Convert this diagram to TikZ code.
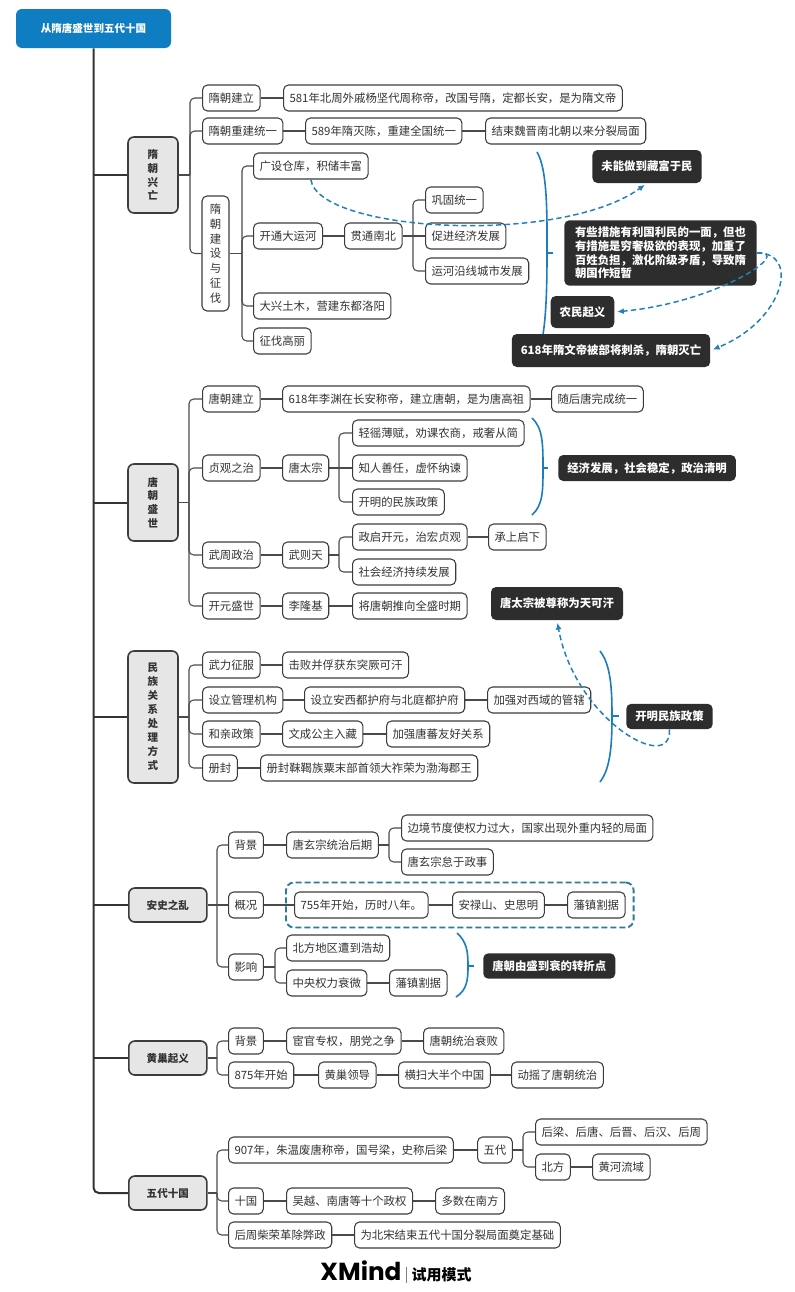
\documentclass[tikz,border=0pt]{standalone}
\usepackage{fontspec}
\setmainfont{Noto Sans CJK SC}
\newfontfamily\xmfont{Poppins}
\usetikzlibrary{arrows.meta,fit}
\definecolor{rootc}{HTML}{0F7DC2}
\definecolor{bordc}{HTML}{3C3C3C}
\definecolor{connc}{HTML}{4A4A4A}
\definecolor{lfill}{HTML}{E6E6E6}
\definecolor{darkc}{HTML}{2D2D2D}
\definecolor{bracec}{HTML}{1B7DC0}
\definecolor{dashc}{HTML}{2180B8}
\definecolor{dboxc}{HTML}{2A7C98}
\definecolor{txtc}{HTML}{333333}
\pgfdeclarelayer{bg}
\pgfsetlayers{bg,main}
\newcommand\mynf{\fontsize{8.55pt}{10.3pt}\selectfont}
\newcommand\mylf{\fontsize{7.9pt}{10.3pt}\selectfont}
\begin{document}
\begin{tikzpicture}[x=0.75pt,y=-0.75pt,
  boxbase/.style={inner ysep=0pt, text height=7.55pt, text depth=1.05pt},
  box/.style={boxbase, font=\mynf, text=txtc, draw=bordc, line width=0.8pt, fill=white, rounded corners=3.75pt, inner xsep=4.5pt, minimum height=19.5pt, anchor=west},
  dark/.style={boxbase, font=\mynf\bfseries, fill=darkc, text=white, rounded corners=3.75pt, inner xsep=6.75pt},
  darkm/.style={font=\mynf\bfseries, fill=darkc, text=white, rounded corners=3.75pt, inner xsep=8pt, inner ysep=5pt, align=left},
  l1h/.style={boxbase, font=\mylf\bfseries, text=txtc, draw=bordc, line width=1.2pt, fill=lfill, rounded corners=4.5pt, minimum width=58.5pt, minimum height=25.5pt, anchor=west},
  l1v/.style={font=\mylf\bfseries, text=txtc, draw=bordc, line width=1.2pt, fill=lfill, rounded corners=4.5pt, minimum width=37.5pt, align=center, inner sep=0pt},
  vb/.style={font=\fontsize{8.55pt}{11.1pt}\selectfont, text=txtc, draw=bordc, line width=0.8pt, fill=white, rounded corners=3.75pt, minimum width=20.25pt, align=center, inner sep=0pt},
  rootbox/.style={boxbase, font=\fontsize{7.9pt}{9pt}\selectfont\bfseries, fill=rootc, text=white, rounded corners=4.5pt, minimum width=116.25pt, minimum height=29.25pt},
  conn/.style={draw=connc, line width=0.8pt, rounded corners=3.5pt},
  trunk/.style={draw=txtc, line width=1.5pt, rounded corners=4pt},
  bracel/.style={draw=bracec, line width=1.2pt},
  darr/.style={draw=dashc, line width=1.1pt, dash pattern=on 4pt off 2.5pt, -{Latex[length=5pt,width=4.5pt]}, shorten >=2pt},
  dbox/.style={draw=dboxc, line width=1.4pt, dash pattern=on 4.5pt off 2.25pt, rounded corners=6pt, inner xsep=6pt, inner ysep=6.75pt}
]
\useasboundingbox (0,0) rectangle (794,1292);

% root and level 1
\node[rootbox] (R) at (93.5,28.5) {从隋唐盛世到五代十国};
\node[l1v, minimum height=57pt] (S) at (153,175) {隋\\朝\\兴\\亡};
\node[l1v, minimum height=57.75pt] (T) at (153,502.5) {唐\\朝\\盛\\世};
\node[l1v, minimum height=99pt, font=\fontsize{7.9pt}{10.5pt}\selectfont\bfseries] (M) at (153,717) {民\\族\\关\\系\\处\\理\\方\\式};
\node[l1h] (A) at (128,905) {安史之乱};
\node[l1h] (H) at (128,1058) {黄巢起义};
\node[l1h] (W) at (128,1193) {五代十国};

% Sui
\node[box] (s1) at (202,98) {隋朝建立};
\node[box] (s1a) at (283,98) {581年北周外戚杨坚代周称帝，改国号隋，定都长安，是为隋文帝};
\node[box] (s2) at (202,131) {隋朝重建统一};
\node[box] (s2a) at (305,131) {589年隋灭陈，重建全国统一};
\node[box] (s2b) at (485,131) {结束魏晋南北朝以来分裂局面};
\node[vb, minimum height=86.25pt] (s3) at (215.5,253.5) {隋\\朝\\建\\设\\与\\征\\伐};
\node[box] (s3a) at (253,166) {广设仓库，积储丰富};
\node[box] (s3b) at (253,236) {开通大运河};
\node[box] (s3c) at (344,236) {贯通南北};
\node[box] (s3d) at (425,200) {巩固统一};
\node[box] (s3e) at (425,236) {促进经济发展};
\node[box] (s3f) at (425,271) {运河沿线城市发展};
\node[box] (s3g) at (253,306) {大兴土木，营建东都洛阳};
\node[box] (s3h) at (253,341) {征伐高丽};
\node[dark, minimum height=24.75pt] (d1) at (647,166.5) {未能做到藏富于民};
\node[darkm] (d2) at (660.5,253) {有些措施有利国利民的一面，但也\\有措施是穷奢极欲的表现，加重了\\百姓负担，激化阶级矛盾，导致隋\\朝国作短暂};
\node[dark, minimum height=24pt] (d3) at (582.5,312) {农民起义};
\node[dark, minimum height=24.75pt] (d4) at (611,350.5) {618年隋文帝被部将刺杀，隋朝灭亡};

% Tang
\node[box] (t1) at (202,399) {唐朝建立};
\node[box] (t1a) at (282,399) {618年李渊在长安称帝，建立唐朝，是为唐高祖};
\node[box] (t1b) at (551,399) {随后唐完成统一};
\node[box] (t2) at (202,468) {贞观之治};
\node[box] (t2a) at (282,468) {唐太宗};
\node[box] (t2b) at (352,433) {轻徭薄赋，劝课农商，戒奢从简};
\node[box] (t2c) at (352,468) {知人善任，虚怀纳谏};
\node[box] (t2d) at (352,502) {开明的民族政策};
\node[box] (t3) at (202,555) {武周政治};
\node[box] (t3a) at (282,555) {武则天};
\node[box] (t3b) at (352,537) {政启开元，治宏贞观};
\node[box] (t3c) at (488,537) {承上启下};
\node[box] (t3d) at (352,572) {社会经济持续发展};
\node[box] (t4) at (202,606) {开元盛世};
\node[box] (t4a) at (282,606) {李隆基};
\node[box] (t4b) at (352,606) {将唐朝推向全盛时期};
\node[dark, anchor=west, minimum height=19.5pt] (d5) at (558,468) {经济发展，社会稳定，政治清明};
\node[dark, minimum height=24.75pt] (d6) at (557,603.5) {唐太宗被尊称为天可汗};

% ethnic relations
\node[box] (m1) at (202,665) {武力征服};
\node[box] (m1a) at (282,665) {击败并俘获东突厥可汗};
\node[box] (m2) at (202,700) {设立管理机构};
\node[box] (m2a) at (304,700) {设立安西都护府与北庭都护府};
\node[box] (m2b) at (487,700) {加强对西域的管辖};
\node[box] (m3) at (202,734) {和亲政策};
\node[box] (m3a) at (282,734) {文成公主入藏};
\node[box] (m3b) at (386,734) {加强唐蕃友好关系};
\node[box] (m4) at (202,768) {册封};
\node[box] (m4a) at (260,768) {册封靺鞨族粟末部首领大祚荣为渤海郡王};
\node[dark, anchor=west, minimum height=19pt] (d7) at (626,716.5) {开明民族政策};

% An Shi
\node[box] (a1) at (228,845) {背景};
\node[box] (a1a) at (286,845) {唐玄宗统治后期};
\node[box] (a1b) at (401,828) {边境节度使权力过大，国家出现外重内轻的局面};
\node[box] (a1c) at (401,862) {唐玄宗怠于政事};
\node[box] (a2) at (228,905) {概况};
\node[box] (a2a) at (294,905) {755年开始，历时八年。};
\node[box] (a2b) at (452,905) {安禄山、史思明};
\node[box] (a2c) at (567,905) {藩镇割据};
\node[dbox, fit=(a2a)(a2c)] (a2f) {};
\node[box] (a3) at (228,967) {影响};
\node[box] (a3a) at (286,948) {北方地区遭到浩劫};
\node[box] (a3b) at (286,983) {中央权力衰微};
\node[box] (a3c) at (389,983) {藩镇割据};
\node[dark, anchor=west, minimum height=19pt] (d8) at (483,966) {唐朝由盛到衰的转折点};

% Huang Chao
\node[box] (h1) at (228,1041) {背景};
\node[box] (h1a) at (286,1041) {宦官专权，朋党之争};
\node[box] (h1b) at (423,1041) {唐朝统治衰败};
\node[box] (h2) at (228,1075) {875年开始};
\node[box] (h2a) at (318,1075) {黄巢领导};
\node[box] (h2b) at (398,1075) {横扫大半个中国};
\node[box] (h2c) at (511,1075) {动摇了唐朝统治};

% Five dynasties
\node[box] (w1) at (228,1150) {907年，朱温废唐称帝，国号梁，史称后梁};
\node[box] (w1a) at (477,1150) {五代};
\node[box] (w1b) at (535,1132) {后梁、后唐、后晋、后汉、后周};
\node[box] (w1c) at (535,1167) {北方};
\node[box] (w1d) at (592,1167) {黄河流域};
\node[box] (w2) at (228,1201) {十国};
\node[box] (w2a) at (286,1201) {吴越、南唐等十个政权};
\node[box] (w2b) at (435,1201) {多数在南方};
\node[box] (w3) at (228,1235) {后周柴荣革除弊政};
\node[box] (w3a) at (354,1235) {为北宋结束五代十国分裂局面奠定基础};

\node[inner sep=0pt] (xm) at (396,1272) {{\xmfont\fontsize{18.5pt}{18.5pt}\selectfont\bfseries XMind}\hspace{3.5pt}{\color{gray}\rule[-1.5pt]{0.6pt}{12pt}}\hspace{3.5pt}{\fontsize{11.25pt}{12pt}\selectfont\bfseries 试用模式}};

% bracket x positions
\coordinate (bS) at (190,0);
\coordinate (b3) at (242,0);
\coordinate (b3c) at (413,0);
\coordinate (bT) at (189,0);
\coordinate (bTa) at (339,0);
\coordinate (bA) at (217,0);
\coordinate (bA1) at (389,0);
\coordinate (bA3) at (275,0);
\coordinate (bW1) at (523,0);

\begin{pgfonlayer}{bg}
\fill[white] (0,0) rectangle (794,1292);
% trunk
\draw[trunk] (R.south) |- (W.west);
\foreach \n in {S,T,M,A,H} {\draw[trunk] (R.south |- \n.west) -- (\n.west);}
% Sui
\draw[conn] (S.east) -- (S.east -| bS);
\foreach \c in {s1,s2,s3} {\draw[conn] (S.east -| bS) |- (\c.west);}
\draw[conn] (s1.east) -- (s1a.west);
\draw[conn] (s2.east) -- (s2a.west);
\draw[conn] (s2a.east) -- (s2b.west);
\draw[conn] (s3.east) -- (s3.east -| b3);
\foreach \c in {s3a,s3b,s3g,s3h} {\draw[conn] (s3.east -| b3) |- (\c.west);}
\draw[conn] (s3b.east) -- (s3c.west);
\draw[conn] (s3c.east) -- (s3e.west);
\foreach \c in {s3d,s3f} {\draw[conn] (s3c.east -| b3c) |- (\c.west);}
% Tang
\draw[conn] (T.east) -- (T.east -| bT);
\foreach \c in {t1,t2,t3,t4} {\draw[conn] (T.east -| bT) |- (\c.west);}
\draw[conn] (t1.east) -- (t1a.west);
\draw[conn] (t1a.east) -- (t1b.west);
\draw[conn] (t2.east) -- (t2a.west);
\draw[conn] (t2a.east) -- (t2c.west);
\foreach \c in {t2b,t2d} {\draw[conn] (t2a.east -| bTa) |- (\c.west);}
\draw[conn] (t3.east) -- (t3a.west);
\draw[conn] (t3a.east) -- (t3a.east -| bTa);
\foreach \c in {t3b,t3d} {\draw[conn] (t3a.east -| bTa) |- (\c.west);}
\draw[conn] (t3b.east) -- (t3c.west);
\draw[conn] (t4.east) -- (t4a.west);
\draw[conn] (t4a.east) -- (t4b.west);
% ethnic
\draw[conn] (M.east) -- (M.east -| bT);
\foreach \c in {m1,m2,m3,m4} {\draw[conn] (M.east -| bT) |- (\c.west);}
\draw[conn] (m1.east) -- (m1a.west);
\draw[conn] (m2.east) -- (m2a.west);
\draw[conn] (m2a.east) -- (m2b.west);
\draw[conn] (m3.east) -- (m3a.west);
\draw[conn] (m3a.east) -- (m3b.west);
\draw[conn] (m4.east) -- (m4a.west);
% An Shi
\draw[conn] (A.east) -- (a2.west);
\foreach \c in {a1,a3} {\draw[conn] (A.east -| bA) |- (\c.west);}
\draw[conn] (a1.east) -- (a1a.west);
\draw[conn] (a1a.east) -- (a1a.east -| bA1);
\foreach \c in {a1b,a1c} {\draw[conn] (a1a.east -| bA1) |- (\c.west);}
\draw[conn] (a2.east) -- (a2a.west);
\draw[conn] (a2a.east) -- (a2b.west);
\draw[conn] (a2b.east) -- (a2c.west);
\draw[conn] (a3.east) -- (a3.east -| bA3);
\foreach \c in {a3a,a3b} {\draw[conn] (a3.east -| bA3) |- (\c.west);}
\draw[conn] (a3b.east) -- (a3c.west);
% Huang Chao
\draw[conn] (H.east) -- (H.east -| bA);
\foreach \c in {h1,h2} {\draw[conn] (H.east -| bA) |- (\c.west);}
\draw[conn] (h1.east) -- (h1a.west);
\draw[conn] (h1a.east) -- (h1b.west);
\draw[conn] (h2.east) -- (h2a.west);
\draw[conn] (h2a.east) -- (h2b.west);
\draw[conn] (h2b.east) -- (h2c.west);
% Five dynasties
\draw[conn] (W.east) -- (W.east -| bA);
\foreach \c in {w1,w2,w3} {\draw[conn] (W.east -| bA) |- (\c.west);}
\draw[conn] (w1.east) -- (w1a.west);
\draw[conn] (w1a.east) -- (w1a.east -| bW1);
\foreach \c in {w1b,w1c} {\draw[conn] (w1a.east -| bW1) |- (\c.west);}
\draw[conn] (w1c.east) -- (w1d.west);
\draw[conn] (w2.east) -- (w2a.west);
\draw[conn] (w2a.east) -- (w2b.west);
\draw[conn] (w3.east) -- (w3a.west);
% summary braces
\draw[bracel] (537,152) .. controls (548,170) and (547,220) .. (547,253) .. controls (547,290) and (546,320) .. (542,340);
\draw[bracel] (547,253) -- (553,253);
\draw[bracel] (532,418) .. controls (543,428) and (543,445) .. (543,468) .. controls (543,491) and (543,505) .. (532,515);
\draw[bracel] (543,468) -- (548,468);
\draw[bracel] (600,651) .. controls (611,665) and (612,690) .. (612,716) .. controls (612,742) and (611,768) .. (600,782);
\draw[bracel] (612,716) -- (619,716);
\draw[bracel] (457,933) .. controls (467,942) and (468,952) .. (468,966) .. controls (468,980) and (467,990) .. (456,997);
\draw[bracel] (468,966) -- (474,966);
\end{pgfonlayer}

% dashed relation arrows
\draw[darr] (s3a.south) .. controls (318,232) and (560,246) .. (d1.south);
\draw[darr] (d2.east) .. controls (795,250) and (720,302) .. (d3.east);
\draw[darr] (d2.east) .. controls (800,252) and (785,320) .. (d4.east);
\draw[darr] (d7.south) .. controls (672,775) and (575,720) .. (d6.south);
\end{tikzpicture}
\end{document}
